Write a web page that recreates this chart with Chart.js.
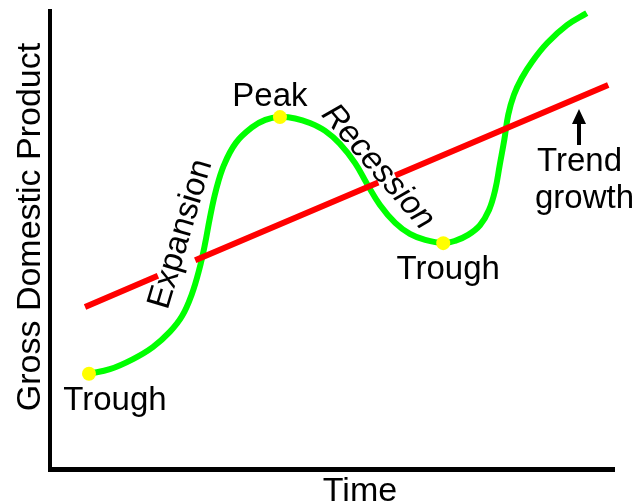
<!DOCTYPE html>
<html>
<head>
<meta charset="utf-8">
<title>Business cycle</title>
<script src="https://cdn.jsdelivr.net/npm/chart.js@4.4.1/dist/chart.umd.min.js"></script>
<style>
    html, body { margin: 0; padding: 0; background: #ffffff; }
    #cycle_chart { display: block; }
</style>
</head>
<body>
<canvas id="cycle_chart" width="640" height="504"></canvas>
<script>
// both axes run 0-100 (no tick labels on the original)
var cycleTime = [6.9, 10.6, 14.7, 18.2, 21.2, 23.4, 25.1, 26.4, 27.4, 28.3, 29.4, 30.8, 32.9, 35.8, 38.1, 40.7, 43.4, 46.0, 48.7, 51.3, 54.0, 56.1, 58.4, 61.1, 63.7, 66.4, 69.6, 71.7, 74.0, 76.1, 77.7, 78.8, 79.6, 80.4, 81.1, 82.1, 83.5, 85.3, 88.0, 91.5, 95.0];
var cycleGdp = [20.7, 21.7, 23.9, 26.5, 29.8, 33.3, 38.0, 43.3, 48.7, 54.6, 60.7, 66.1, 70.9, 74.3, 75.9, 76.5, 76.2, 75.2, 73.5, 70.7, 66.5, 62.0, 57.4, 53.5, 51.1, 49.8, 49.1, 49.6, 50.9, 53.0, 56.3, 60.7, 66.1, 71.5, 77.0, 81.3, 85.0, 88.5, 92.6, 96.5, 99.1];

// trend line, null = where the labels cut through it
var trendTime = [6.2, 19.1, 22.4, 25.7, 58.1, 59.6, 61.1, 98.8];
var trendGdp = [35.2, 42.0, null, 45.4, 62.3, null, 63.8, 83.5];

var turnTime = [6.9, 40.7, 69.6];
var turnGdp = [20.7, 76.5, 49.1];
var turnLabels = ["Trough", "Peak", "Trough"];

var phaseLabels = ["Expansion", "Recession"];
var trendLabel = ["Trend", "growth"];
var xTitle = "Time";
var yTitle = "Gross Domestic Product";

function toPoints(xs, ys) {
    var pts = [];
    for (var i = 0; i < xs.length; i++) {
        pts.push({ x: xs[i], y: ys[i] });
    }
    return pts;
}

var FONT = '"Liberation Sans", Arial, sans-serif';

var sketchPlugin = {
    id: "sketch",
    beforeDatasetsDraw: function (chart) {
        var ctx = chart.ctx;
        var area = chart.chartArea;
        ctx.save();
        ctx.fillStyle = "#000000";
        // axes
        ctx.fillRect(area.left - 2, area.top, 4, area.bottom - area.top + 3);
        ctx.fillRect(area.left - 2, area.bottom - 2, area.right - area.left + 2, 5);
        ctx.restore();
    },
    afterDatasetsDraw: function (chart) {
        var ctx = chart.ctx;
        var xs = chart.scales.x;
        var ys = chart.scales.y;
        ctx.save();
        ctx.fillStyle = "#000000";

        // axis titles
        ctx.font = "34px " + FONT;
        ctx.textAlign = "center";
        ctx.textBaseline = "alphabetic";
        ctx.fillText(xTitle, 360, 501);
        ctx.save();
        ctx.translate(40, 227);
        ctx.rotate(-Math.PI / 2);
        ctx.fillText(yTitle, 0, 0);
        ctx.restore();

        // turning points
        ctx.font = "33px " + FONT;
        var offs = [[26, 36], [-10, -11], [5, 36]];
        for (var i = 0; i < turnLabels.length; i++) {
            var px = xs.getPixelForValue(turnTime[i]);
            var py = ys.getPixelForValue(turnGdp[i]);
            ctx.fillText(turnLabels[i], px + offs[i][0], py + offs[i][1]);
        }

        // phases
        ctx.textBaseline = "middle";
        ctx.save();
        ctx.translate(181, 234);
        ctx.rotate(-73.3 * Math.PI / 180);
        ctx.fillText(phaseLabels[0], 0, 0);
        ctx.restore();

        ctx.save();
        ctx.font = "italic 33px " + FONT;
        ctx.translate(378, 167);
        ctx.rotate(49 * Math.PI / 180);
        ctx.fillText(phaseLabels[1], 0, 0);
        ctx.restore();

        // trend growth label + arrow
        ctx.textAlign = "left";
        ctx.textBaseline = "alphabetic";
        ctx.fillText(trendLabel[0], 537, 171);
        ctx.fillText(trendLabel[1], 535, 208);
        ctx.fillRect(577, 120, 4, 25);
        ctx.beginPath();
        ctx.moveTo(579, 109);
        ctx.lineTo(572, 124);
        ctx.lineTo(586, 124);
        ctx.closePath();
        ctx.fill();
        ctx.restore();
    }
};

var cycleChart = new Chart(document.getElementById("cycle_chart"), {
    type: "line",
    data: {
        datasets: [
            {
                type: "scatter",
                data: toPoints(turnTime, turnGdp),
                backgroundColor: "#FFFF00",
                borderWidth: 0,
                pointRadius: 7,
                order: 0,
            },
            {
                data: toPoints(trendTime, trendGdp),
                borderColor: "#FF0000",
                borderWidth: 6,
                pointRadius: 0,
                spanGaps: false,
                order: 1,
            },
            {
                data: toPoints(cycleTime, cycleGdp),
                borderColor: "#00FF00",
                borderWidth: 6,
                pointRadius: 0,
                tension: 0.4,
                order: 2,
            },
        ],
    },
    options: {
        responsive: false,
        animation: false,
        devicePixelRatio: 1,
        layout: {
            padding: { left: 50, top: 9, right: 25, bottom: 35 },
        },
        plugins: {
            legend: { display: false },
            tooltip: { enabled: false },
        },
        scales: {
            x: { type: "linear", min: 0, max: 100, display: false },
            y: { type: "linear", min: 0, max: 100, display: false },
        },
    },
    plugins: [sketchPlugin],
});
</script>
</body>
</html>
